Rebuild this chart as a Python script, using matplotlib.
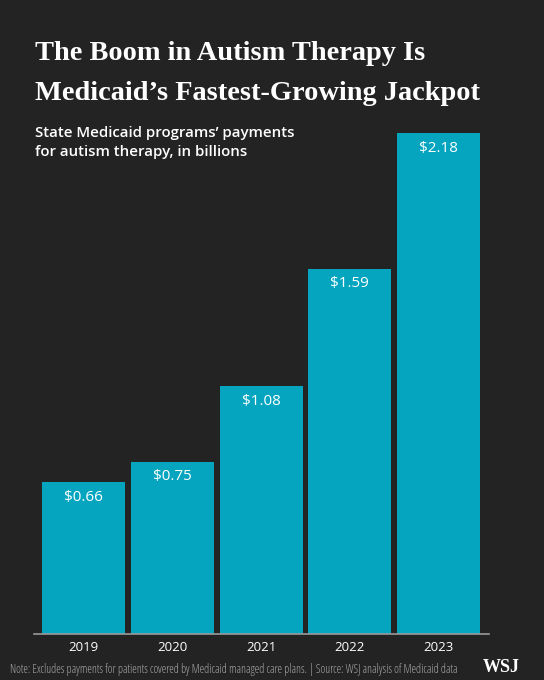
import numpy as np
import matplotlib.pyplot as plt

years = ['2019', '2020', '2021', '2022', '2023']
payments = [0.66, 0.75, 1.08, 1.59, 2.18]
value_labels = ['$0.66', '$0.75', '$1.08', '$1.59', '$2.18']

bg = '#232323'
bar_color = '#05a5c0'

fig = plt.figure(figsize=(5.44, 6.8), dpi=100, facecolor=bg)
# axes: x 34..489 px, y 133..634 px
ax = fig.add_axes([34/544, 1-634/680, (489-34)/544, (634-133)/680])
ax.set_facecolor(bg)

x = np.arange(len(years))
ax.bar(x, payments, width=0.935, color=bar_color, zorder=2)
ax.set_xlim(-0.56, 4.57)
ax.set_ylim(0, 2.18)

for xi, v, lab in zip(x, payments, value_labels):
    ax.annotate(lab, (xi, v), xytext=(0, -11), textcoords='offset points',
                ha='center', va='center', color='white', fontsize=11,
                family='Open Sans')

for s in ['top', 'right', 'left']:
    ax.spines[s].set_visible(False)
ax.spines['bottom'].set_color('#9a9a9a')
ax.spines['bottom'].set_linewidth(1.2)
ax.set_yticks([])
ax.set_xticks(x)
ax.set_xticklabels(years, color='white', fontsize=9.5, family='Open Sans')
ax.tick_params(axis='x', length=0, pad=5)

fig.text(35/544, 1-53/680, 'The Boom in Autism Therapy Is', color='white',
         fontsize=20.4, fontweight='bold', family='Liberation Serif', va='center')
fig.text(35/544, 1-93/680, 'Medicaid\u2019s Fastest-Growing Jackpot', color='white',
         fontsize=20.4, fontweight='bold', family='Liberation Serif', va='center')
fig.text(35/544, 1-133/680, 'State Medicaid programs\u2019 payments', color='white',
         fontsize=10.8, fontweight='semibold', family='Open Sans', va='center')
fig.text(35/544, 1-152/680, 'for autism therapy, in billions', color='white',
         fontsize=10.8, fontweight='semibold', family='Open Sans', va='center')

fig.text(10/544, 1-669/680,
         'Note: Excludes payments for patients covered by Medicaid managed care plans. | Source: WSJ analysis of Medicaid data',
         color='#aaaaaa', fontsize=8.4, family='Open Sans', va='center', fontstretch='condensed')
fig.text(520/544, 1-667/680, 'WSJ', color='white', fontsize=13, fontweight='bold',
         family='Liberation Serif', va='center', ha='right')

fig.savefig('out.png', facecolor=bg)
